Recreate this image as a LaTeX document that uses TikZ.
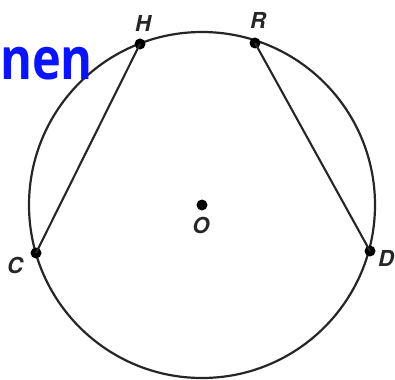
\documentclass[tikz,border=0pt]{standalone}
\usepackage{fontspec}
\setsansfont{TeX Gyre Heros}
\newfontfamily\handfont{Open Sans}
\usepackage{xcolor}
\usepackage{tikz}
\usetikzlibrary{positioning}
\definecolor{inkblue}{RGB}{10,20,250}

\begin{document}
\begin{tikzpicture}[x=1pt, y=-1pt, every node/.style={inner sep=1pt},
  pt/.style={circle,fill=black,minimum size=11pt,inner sep=0pt},
  lbl/.style={font=\sffamily\bfseries\itshape\fontsize{22}{22}\selectfont, text=black!85}]
  \useasboundingbox (0,0) rectangle (395,379);
  \coordinate (o) at (202,205);
  \draw[line width=2.2pt, black!85] (o) circle (173);
  \node[pt] (h) at (140,44) {};
  \node[pt] (r) at (255,43) {};
  \node[pt] (c) at (36,253) {};
  \node[pt] (d) at (370,251) {};
  \node[pt] (oc) at (o) {};
  \draw[line width=2.1pt, black!85] (c.center) -- (h.center);
  \draw[line width=2.1pt, black!85] (r.center) -- (d.center);
  \node[lbl] (hl) at (143,23) {H};
  \node[lbl] (rl) at (258,20) {R};
  \node[lbl] (cl) at (15,265) {C};
  \node[lbl] (dl) at (386,258) {D};
  \node[lbl] (ol) at (201,225) {O};
  % handwritten note
  \node[font=\handfont\bfseries\fontsize{58}{58}\selectfont, text=inkblue, anchor=base west, inner sep=0pt, xscale=0.84] (note) at (0,80) {nen};
\end{tikzpicture}
\end{document}
